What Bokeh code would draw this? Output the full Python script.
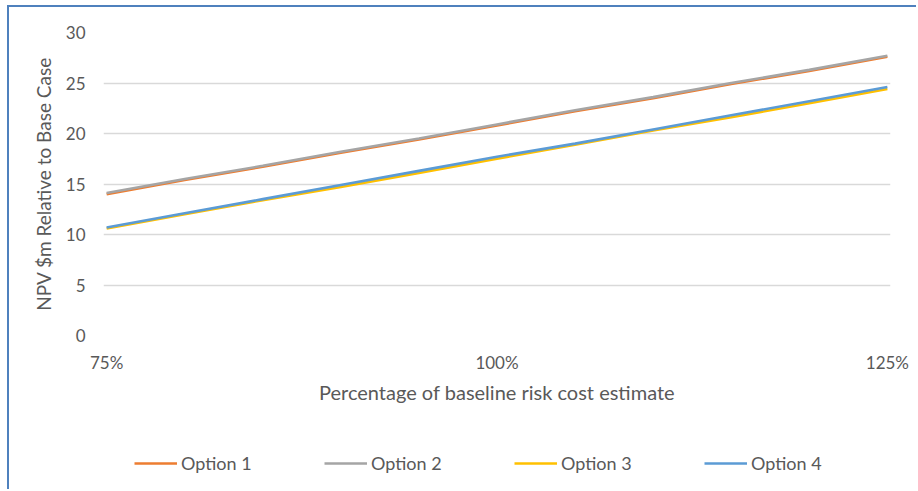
from bokeh.plotting import figure
from bokeh.layouts import column
from bokeh.models import Range1d, FixedTicker, Legend, LegendItem
from bokeh.embed import file_html
from bokeh.resources import INLINE

# Percentage of baseline risk cost estimate (x) and NPV relative to base case ($m)
pct = [75, 80, 85, 90, 95, 100, 105, 110, 115, 120, 125]
option_1 = [14.0, 15.4, 16.7, 18.1, 19.4, 20.8, 22.2, 23.5, 24.9, 26.2, 27.6]
option_2 = [14.1, 15.5, 16.8, 18.2, 19.5, 20.9, 22.3, 23.6, 25.0, 26.3, 27.7]
option_3 = [10.6, 12.0, 13.4, 14.7, 16.1, 17.5, 18.9, 20.3, 21.6, 23.0, 24.4]
option_4 = [10.7, 12.1, 13.5, 14.9, 16.3, 17.7, 19.0, 20.4, 21.8, 23.2, 24.6]

series_names = ["Option 1", "Option 2", "Option 3", "Option 4"]
series_colors = ["#ED7D31", "#A5A5A5", "#FFC000", "#5B9BD5"]
series_values = [option_1, option_2, option_3, option_4]

x_tick_vals = [75, 100, 125]
x_tick_labels = ["75%", "100%", "125%"]
y_tick_vals = [0, 5, 10, 15, 20, 25, 30]

FONT = "Lato"
TEXT_COLOR = "#595959"
FRAME_BLUE = "#4F81BD"

# ---- main chart ----
p = figure(
    width=909, height=413,
    output_backend="svg", toolbar_location=None,
    x_range=Range1d(74.8, 125.2), y_range=Range1d(0, 30),
    min_border_left=94, min_border_top=25, min_border_right=28, min_border_bottom=85,
)
p.margin = (5, 0, 0, 7)
p.styles = {"border-left": f"2px solid {FRAME_BLUE}", "border-top": f"2px solid {FRAME_BLUE}"}
p.outline_line_color = None
p.background_fill_color = "white"
p.border_fill_color = "white"

# gridlines
p.xgrid.grid_line_color = None
p.ygrid.grid_line_color = "#D9D9D9"
p.ygrid.grid_line_width = 1.3
p.ygrid.ticker = FixedTicker(ticks=y_tick_vals)

# y axis
p.yaxis.ticker = FixedTicker(ticks=y_tick_vals)
p.yaxis.axis_line_color = None
p.yaxis.major_tick_line_color = None
p.yaxis.minor_tick_line_color = None
p.yaxis.major_tick_in = 0
p.yaxis.major_tick_out = 0
p.yaxis.major_label_standoff = 18
p.yaxis.major_label_text_font = FONT
p.yaxis.major_label_text_font_size = "17px"
p.yaxis.major_label_text_color = TEXT_COLOR
p.yaxis.axis_label = "NPV $m Relative to Base Case"
p.yaxis.axis_label_text_font = FONT
p.yaxis.axis_label_text_font_size = "19px"
p.yaxis.axis_label_text_font_style = "normal"
p.yaxis.axis_label_text_color = TEXT_COLOR
p.yaxis.axis_label_standoff = 8

# x axis
p.xaxis.ticker = FixedTicker(ticks=x_tick_vals)
p.xaxis.major_label_overrides = dict(zip(x_tick_vals, x_tick_labels))
p.xaxis.axis_line_color = None
p.xaxis.major_tick_line_color = None
p.xaxis.minor_tick_line_color = None
p.xaxis.major_tick_in = 0
p.xaxis.major_tick_out = 0
p.xaxis.major_label_standoff = 16
p.xaxis.major_label_text_font = FONT
p.xaxis.major_label_text_font_size = "17px"
p.xaxis.major_label_text_color = TEXT_COLOR
p.xaxis.axis_label = "Percentage of baseline risk cost estimate"
p.xaxis.axis_label_text_font = FONT
p.xaxis.axis_label_text_font_size = "20px"
p.xaxis.axis_label_text_font_style = "normal"
p.xaxis.axis_label_text_color = TEXT_COLOR
p.xaxis.axis_label_standoff = 4

# series lines
for color, ys in zip(series_colors, series_values):
    p.line(pct, ys, line_color=color, line_width=2.6)

# ---- legend strip under the chart ----
# The strip's own ranges keep its copies of the series out of view;
# they only supply the legend swatches.
q = figure(
    width=909, height=71,
    output_backend="svg", toolbar_location=None,
    x_axis_type=None, y_axis_type=None,
    x_range=Range1d(0, 1), y_range=Range1d(0, 1),
    min_border=0,
)
q.margin = (0, 0, 0, 7)
q.styles = {"border-left": f"2px solid {FRAME_BLUE}"}
q.outline_line_color = None
q.grid.visible = False

items = []
for name, color, ys in zip(series_names, series_colors, series_values):
    r = q.line(pct, ys, line_color=color, line_width=2.6)
    items.append(LegendItem(label=name, renderers=[r]))

legend = Legend(
    items=items,
    orientation="horizontal",
    location=(31, 15),
    padding=0,
    margin=0,
    spacing=53,
    glyph_width=43,
    glyph_height=20,
    label_width=90,
    label_standoff=4,
    border_line_color=None,
    background_fill_alpha=0,
    label_text_font=FONT,
    label_text_font_size="18px",
    label_text_color=TEXT_COLOR,
)
q.add_layout(legend, "center")

layout = column(p, q, spacing=0)
open("out.html", "w").write(file_html(layout, INLINE))
